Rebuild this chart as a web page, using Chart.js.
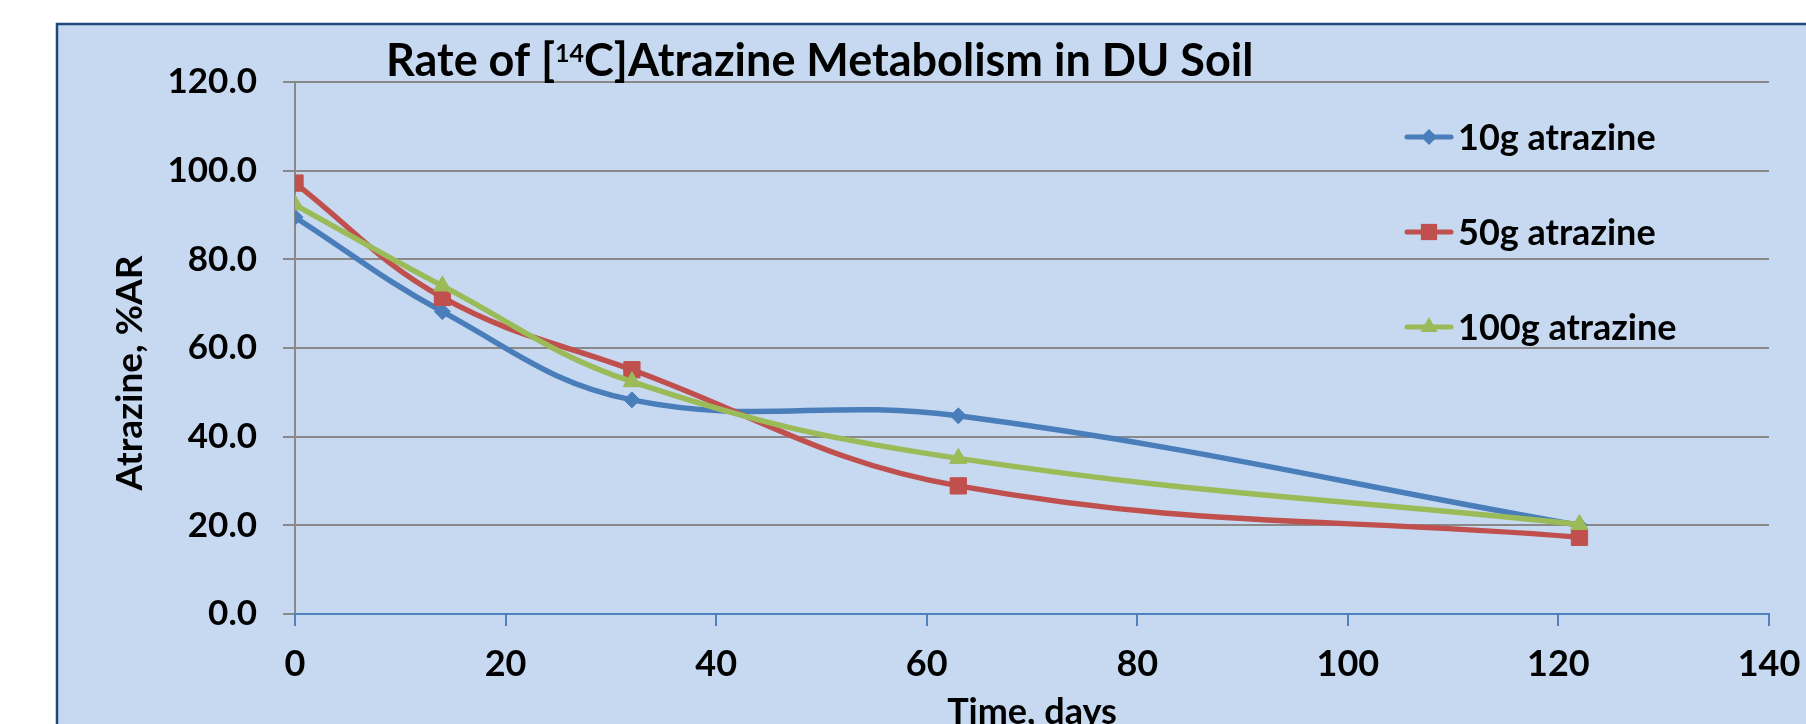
<!DOCTYPE html>
<html>
<head>
<meta charset="utf-8">
<script src="https://cdn.jsdelivr.net/npm/chart.js@4.4.1/dist/chart.umd.min.js"></script>
<style>
  html, body { margin: 0; padding: 0; background: #fff; }
  #wrap { width: 1806px; height: 724px; }
</style>
</head>
<body>
<div id="wrap"><canvas id="atrazineChart" width="1806" height="724"></canvas></div>
<script>
// days after treatment and % applied radioactivity remaining as atrazine
const days = [0, 14, 32, 63, 122];
const atrazine10g = [89.5, 68.2, 48.3, 44.7, 20.0];
const atrazine50g = [97.2, 71.4, 55.1, 28.9, 17.3];
const atrazine100g = [92.3, 74.0, 52.4, 35.1, 20.2];
const seriesLabels = ['10g atrazine', '50g atrazine', '100g atrazine'];
const seriesColors = ['#4A7EBB', '#C0504D', '#9BBB59'];
const seriesMarkers = ['rectRot', 'rect', 'triangle'];
const markerSizes = [8, 11.5, 10];

const FONT = 'Lato, "Open Sans", sans-serif';

function toPoints(ys) {
    return days.map((d, i) => ({ x: d, y: ys[i] }));
}

function drawMarker(ctx, style, x, y, r, color) {
    ctx.save();
    ctx.fillStyle = color;
    ctx.beginPath();
    if (style === 'rect') {
        const s = r * Math.SQRT1_2;
        ctx.rect(x - s, y - s, 2 * s, 2 * s);
    } else if (style === 'rectRot') {
        ctx.moveTo(x, y - r);
        ctx.lineTo(x + r, y);
        ctx.lineTo(x, y + r);
        ctx.lineTo(x - r, y);
        ctx.closePath();
    } else {
        ctx.moveTo(x, y - r);
        ctx.lineTo(x + r * 0.866, y + r * 0.5);
        ctx.lineTo(x - r * 0.866, y + r * 0.5);
        ctx.closePath();
    }
    ctx.fill();
    ctx.restore();
}

const decor = {
    id: 'decor',
    beforeDraw(chart) {
        const ctx = chart.ctx;
        ctx.save();
        ctx.fillStyle = '#ffffff';
        ctx.fillRect(0, 0, chart.width, chart.height);
        ctx.fillStyle = '#C6D9F1';
        ctx.fillRect(57, 24, chart.width, chart.height);
        ctx.strokeStyle = '#1F497D';
        ctx.lineWidth = 2.5;
        ctx.beginPath();
        ctx.moveTo(57, chart.height + 5);
        ctx.lineTo(57, 24);
        ctx.lineTo(chart.width + 5, 24);
        ctx.stroke();
        ctx.restore();
    },
    afterDraw(chart) {
        const ctx = chart.ctx;
        ctx.save();
        ctx.fillStyle = '#000';

        // title with superscript 14
        ctx.textBaseline = 'alphabetic';
        ctx.textAlign = 'left';
        let x = 386;
        const base = 76;
        ctx.font = 'bold 45px ' + FONT;
        ctx.fillText('Rate of [', x, base);
        x += ctx.measureText('Rate of [').width;
        ctx.font = 'bold 25px ' + FONT;
        ctx.fillText('14', x, base - 14);
        x += ctx.measureText('14').width;
        ctx.font = 'bold 45px ' + FONT;
        ctx.fillText('C]Atrazine Metabolism in DU Soil', x, base);

        // y axis title
        ctx.save();
        ctx.translate(142, 373);
        ctx.rotate(-Math.PI / 2);
        ctx.textAlign = 'center';
        ctx.textBaseline = 'alphabetic';
        ctx.font = 'bold 37px ' + FONT;
        ctx.fillText('Atrazine, %AR', 0, 0);
        ctx.restore();

        // legend
        const rowsY = [137, 232, 327];
        ctx.font = 'bold 36px ' + FONT;
        ctx.textBaseline = 'middle';
        seriesLabels.forEach((lab, i) => {
            const y = rowsY[i];
            ctx.strokeStyle = seriesColors[i];
            ctx.lineWidth = 5;
            ctx.lineCap = 'round';
            ctx.beginPath();
            ctx.moveTo(1407, y);
            ctx.lineTo(1451, y);
            ctx.stroke();
            drawMarker(ctx, seriesMarkers[i], 1429, y, markerSizes[i], seriesColors[i]);
            ctx.fillStyle = '#000';
            ctx.fillText(lab, 1458, y + 1);
        });
        ctx.restore();
    }
};

const datasets = [atrazine10g, atrazine50g, atrazine100g].map((ys, i) => ({
    label: seriesLabels[i],
    data: toPoints(ys),
    borderColor: seriesColors[i],
    backgroundColor: seriesColors[i],
    borderWidth: 5.5,
    pointStyle: seriesMarkers[i],
    pointRadius: markerSizes[i],
    pointBorderWidth: 1,
    pointBorderColor: seriesColors[i],
    pointBackgroundColor: seriesColors[i],
    tension: 0.4,
    fill: false,
    order: 3 - i
}));

new Chart(document.getElementById('atrazineChart').getContext('2d'), {
    type: 'line',
    data: { datasets: datasets },
    options: {
        responsive: false,
        animation: false,
        layout: { padding: { top: 82, right: 37, left: 0, bottom: 0 } },
        plugins: {
            legend: { display: false },
            tooltip: { enabled: false }
        },
        scales: {
            x: {
                type: 'linear',
                min: 0,
                max: 140,
                ticks: {
                    stepSize: 20,
                    color: '#000',
                    padding: 17,
                    font: { family: FONT, size: 36, weight: 'bold' }
                },
                grid: {
                    drawOnChartArea: false,
                    drawTicks: true,
                    tickLength: 12,
                    color: '#4F81BD',
                    lineWidth: 2
                },
                border: { display: true, color: '#4F81BD', width: 2, z: 1 },
                title: {
                    display: true,
                    text: 'Time, days',
                    color: '#000',
                    font: { family: FONT, size: 36, weight: 'bold' },
                    padding: { top: 0, bottom: -10 }
                },
                afterFit(scale) {
                    scale.height = 110;
                    scale.paddingLeft = 0;
                    scale.paddingRight = 0;
                }
            },
            y: {
                min: 0,
                max: 120,
                ticks: {
                    stepSize: 20,
                    color: '#000',
                    padding: 26,
                    font: { family: FONT, size: 35, weight: 'bold' },
                    callback: (v) => v.toFixed(1)
                },
                grid: {
                    color: '#898989',
                    lineWidth: 2,
                    tickLength: 12
                },
                border: { display: true, color: '#898989', width: 2 },
                afterFit(scale) { scale.width = 295; }
            }
        }
    },
    plugins: [decor]
});
</script>
</body>
</html>
